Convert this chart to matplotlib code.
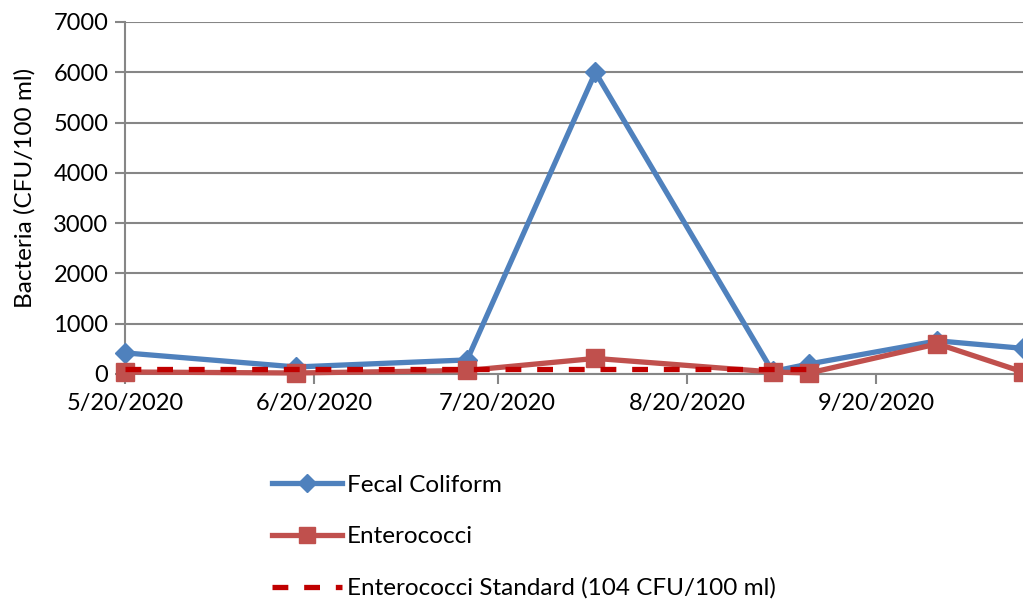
import matplotlib.pyplot as plt
import matplotlib.dates as mdates
from matplotlib.lines import Line2D
import datetime as dt

plt.rcParams['font.family'] = ['Lato', 'DejaVu Sans']

dates = [dt.date(2020, 5, 20), dt.date(2020, 6, 17), dt.date(2020, 7, 15), dt.date(2020, 8, 5),
         dt.date(2020, 9, 3), dt.date(2020, 9, 9), dt.date(2020, 9, 30), dt.date(2020, 10, 14)]
fecal = [420, 140, 280, 6000, 50, 200, 660, 510]
entero = [40, 20, 70, 310, 40, 20, 600, 40]
standard = [104, 104, 104, 104, 104, 104]
tick_dates = [dt.date(2020, 5, 20), dt.date(2020, 6, 20), dt.date(2020, 7, 20),
              dt.date(2020, 8, 20), dt.date(2020, 9, 20)]

fig = plt.figure(figsize=(10.23, 6.01), dpi=100)
ax = fig.add_axes([125/1023, 1 - 374/601, 898/1023, 352/601])

ax.plot(dates, fecal, color='#4F81BD', lw=3.8, marker='D', ms=10, clip_on=False, zorder=3)
ax.plot(dates, entero, color='#C0504D', lw=3.8, marker='s', ms=13, clip_on=False, zorder=4)
ax.plot(dates[:len(standard)], standard, color='#C00000', lw=3.8, ls=(0, (3, 3)), zorder=5)

ax.set_xlim(dates[0], dates[-1])
ax.set_ylim(0, 7000)
ax.set_yticks(range(0, 7001, 1000))
ax.set_xticks(tick_dates)
ax.xaxis.set_major_formatter(mdates.DateFormatter('%-m/%d/%Y'))
ax.tick_params(axis='both', labelsize=17, length=7, color='#868686', width=1.5)
ax.tick_params(axis='x', pad=7)
ax.tick_params(axis='y', direction='out', pad=5)
ax.yaxis.grid(True, color='#868686', lw=1.5)
ax.set_axisbelow(True)
for s in ['top', 'right']:
    ax.spines[s].set_visible(False)
for s in ['left', 'bottom']:
    ax.spines[s].set_color('#868686')
    ax.spines[s].set_linewidth(1.5)
ax.set_ylabel('Bacteria (CFU/100 ml)', fontsize=17.5)
ax.yaxis.set_label_coords(-0.1, 0.53)

handles = [Line2D([], [], color='#4F81BD', lw=3.8, marker='D', ms=9),
           Line2D([], [], color='#C0504D', lw=3.8, marker='s', ms=12),
           Line2D([], [], color='#C00000', lw=3.8, ls=(0, (3, 3)))]
labels = ['Fecal Coliform', 'Enterococci', 'Enterococci Standard (104 CFU/100 ml)']
fig.legend(handles, labels, loc='upper left', bbox_to_anchor=(262/1023, 1 - 465/601),
           frameon=False, fontsize=17.5, handlelength=2.9, handletextpad=0.2, labelspacing=1.25,
           borderaxespad=0)

fig.savefig('out.png', dpi=100)
